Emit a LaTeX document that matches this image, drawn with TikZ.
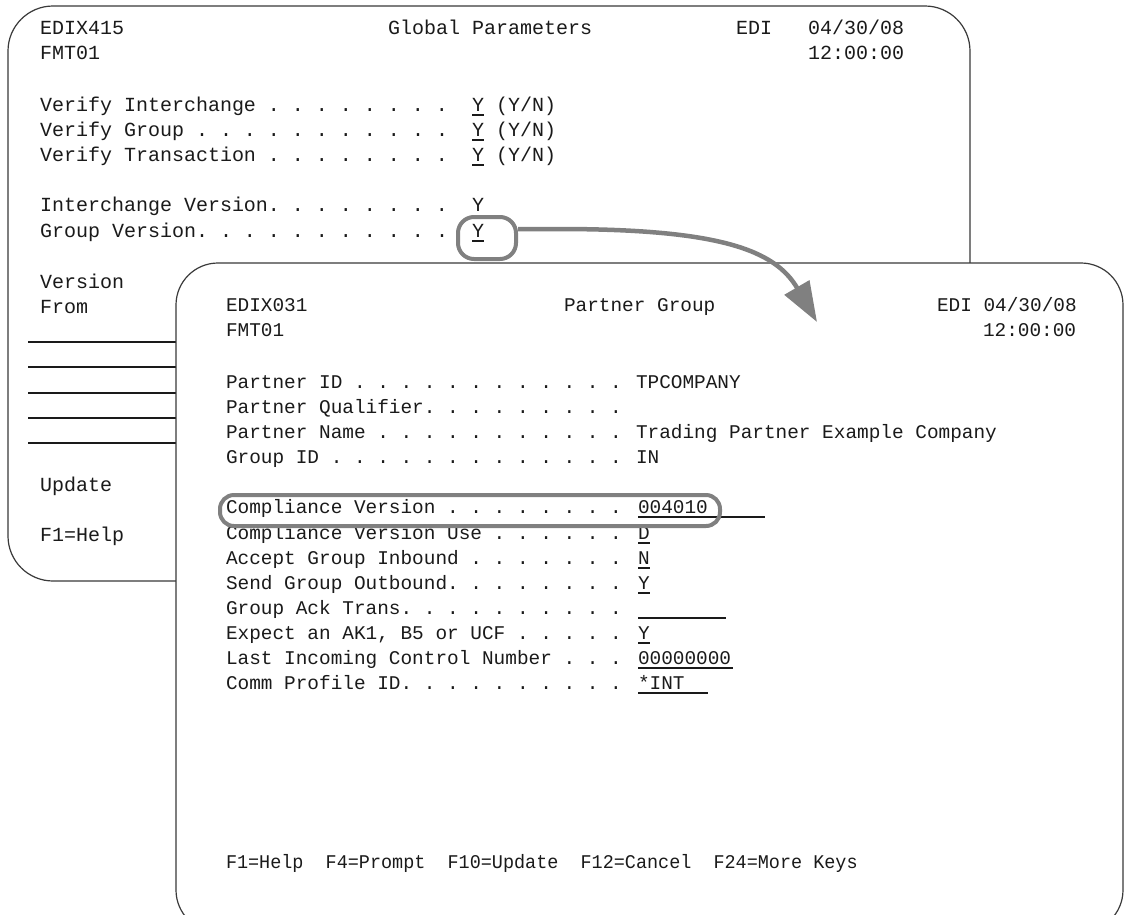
\documentclass[tikz,border=0pt]{standalone}
\usepackage{fontspec}
\usepackage{graphicx}
\setmonofont{Liberation Mono}
\usetikzlibrary{arrows.meta}
\definecolor{txt}{HTML}{1A1A1A}
\definecolor{frame}{HTML}{3A3A3A}
\definecolor{hlgray}{HTML}{808080}
\newcommand\ulx[3]{\draw[ul] (#1,#3) -- (#2,#3);}
\begin{document}
\begin{tikzpicture}[x=1pt,y=-1pt,
  lt/.style={anchor=base west, inner sep=0pt, outer sep=0pt, text=txt, font=\ttfamily\fontsize{20}{24}\selectfont},
  rt/.style={anchor=base west, inner sep=0pt, outer sep=0pt, text=txt, font=\ttfamily\fontsize{19.4}{23}\selectfont},
  panel/.style={draw=frame, line width=1.2pt, fill=white, rounded corners=45pt},
  rule/.style={draw=txt, line width=1.1pt},
  ul/.style={draw=txt, line width=1.3pt},
  hlbox/.style={draw=hlgray, line width=4pt, rounded corners=15pt, inner sep=0pt},
  conn/.style={draw=hlgray, line width=4.5pt, -{Triangle[length=40pt,width=28pt]}}
]
\useasboundingbox (0,0) rectangle (1125,914);
\fill[white] (0,0) rectangle (1125,914);

% ---------- left panel: Global Parameters ----------
\draw[panel] (8,6) rectangle (970,581);
\node[lt] (l1a) at (40,34) {EDIX415};
\node[lt] (l1b) at (388,34) {Global Parameters};
\node[lt] (l1c) at (736,34) {EDI};
\node[lt] (l1d) at (808,34) {04/30/08};
\node[lt] (l2a) at (40,59) {FMT01};
\node[lt] (l2b) at (808,59) {12:00:00};
\node[lt] (l3a) at (40,111) {Verify Interchange . . . . . . . .};
\node[lt] (l3b) at (472,111) {Y};
\node[lt] (l3c) at (496,111) {(Y/N)};
\node[lt] (l4a) at (40,136) {Verify Group . . . . . . . . . . .};
\node[lt] (l4b) at (472,136) {Y};
\node[lt] (l4c) at (496,136) {(Y/N)};
\node[lt] (l5a) at (40,161) {Verify Transaction . . . . . . . .};
\node[lt] (l5b) at (472,161) {Y};
\node[lt] (l5c) at (496,161) {(Y/N)};
\node[lt] (l6a) at (40,211) {Interchange Version. . . . . . . .};
\node[lt] (l6b) at (472,211) {Y};
\node[lt] (l7a) at (40,237) {Group Version. . . . . . . . . . .};
\node[lt] (l7b) at (472,237) {Y};
\node[lt] (l8a) at (40,288) {Version};
\node[lt] (l9a) at (40,313) {From};
\node[lt] (l10a) at (40,491) {Update};
\node[lt] (l11a) at (40,541) {F1=Help};
\ulx{472}{484}{115}
\ulx{472}{484}{140}
\ulx{472}{484}{165}
\ulx{472}{484}{241}
\foreach \yy in {342,367,393,418,443} {\draw[rule] (28,\yy) -- (200,\yy);}

% ---------- right panel: Partner Group ----------
\draw[panel, rounded corners=42pt] (176,263) rectangle (1123,932);
\node[rt] (r1a) at (226,311) {EDIX031};
\node[rt] (r1b) at (564,311) {Partner Group};
\node[rt] (r1c) at (937,311) {EDI 04/30/08};
\node[rt] (r2a) at (226,336) {FMT01};
\node[rt] (r2b) at (983,336) {12:00:00};
\node[rt] (r3a) at (226,388) {Partner ID . . . . . . . . . . . .};
\node[rt] (r3b) at (636,388) {TPCOMPANY};
\node[rt] (r4a) at (226,413) {Partner Qualifier. . . . . . . . .};
\node[rt] (r5a) at (226,438) {Partner Name . . . . . . . . . . .};
\node[rt] (r5b) at (636,438) {Trading Partner Example Company};
\node[rt] (r6a) at (226,463) {Group ID . . . . . . . . . . . . .};
\node[rt] (r6b) at (636,463) {IN};
\node[rt] (r7a) at (226,513) {Compliance Version . . . . . . . .};
\node[rt] (r7b) at (638,513) {004010};
\node[rt] (r8a) at (226,539) {Compliance Version Use . . . . . .};
\node[rt] (r8b) at (638,539) {D};
\node[rt] (r9a) at (226,564) {Accept Group Inbound . . . . . . .};
\node[rt] (r9b) at (638,564) {N};
\node[rt] (r10a) at (226,589) {Send Group Outbound. . . . . . . .};
\node[rt] (r10b) at (638,589) {Y};
\node[rt] (r11a) at (226,614) {Group Ack Trans. . . . . . . . . .};
\node[rt] (r12a) at (226,639) {Expect an AK1, B5 or UCF . . . . .};
\node[rt] (r12b) at (638,639) {Y};
\node[rt] (r13a) at (226,664) {Last Incoming Control Number . . .};
\node[rt] (r13b) at (638,664) {00000000};
\node[rt] (r14a) at (226,689) {Comm Profile ID. . . . . . . . . .};
\node[rt] (r14b) at (638,689) {*INT};
\node[rt] (r15a) at (226,868) {\scalebox{0.952}[1]{F1=Help\ \ F4=Prompt\ \ F10=Update\ \ F12=Cancel\ \ F24=More Keys}};
\ulx{638}{765}{517}
\ulx{638}{650}{543}
\ulx{638}{650}{568}
\ulx{638}{650}{593}
\ulx{638}{726}{618}
\ulx{638}{650}{643}
\ulx{638}{733}{668}
\ulx{638}{708}{693}

% ---------- highlights and connector ----------
\node[hlbox, minimum width=500pt, minimum height=31pt, rounded corners=14pt] (cvbox) at (470,510.5) {};
\node[hlbox, minimum width=58pt, minimum height=42pt, rounded corners=16pt] (gvbox) at (487,238) {};
\coordinate (tip) at (817,322);
\draw[conn] ([yshift=9pt]gvbox.east) -- ++(40,0) .. controls (720,229) and (775,250) .. (tip);
\end{tikzpicture}
\end{document}
